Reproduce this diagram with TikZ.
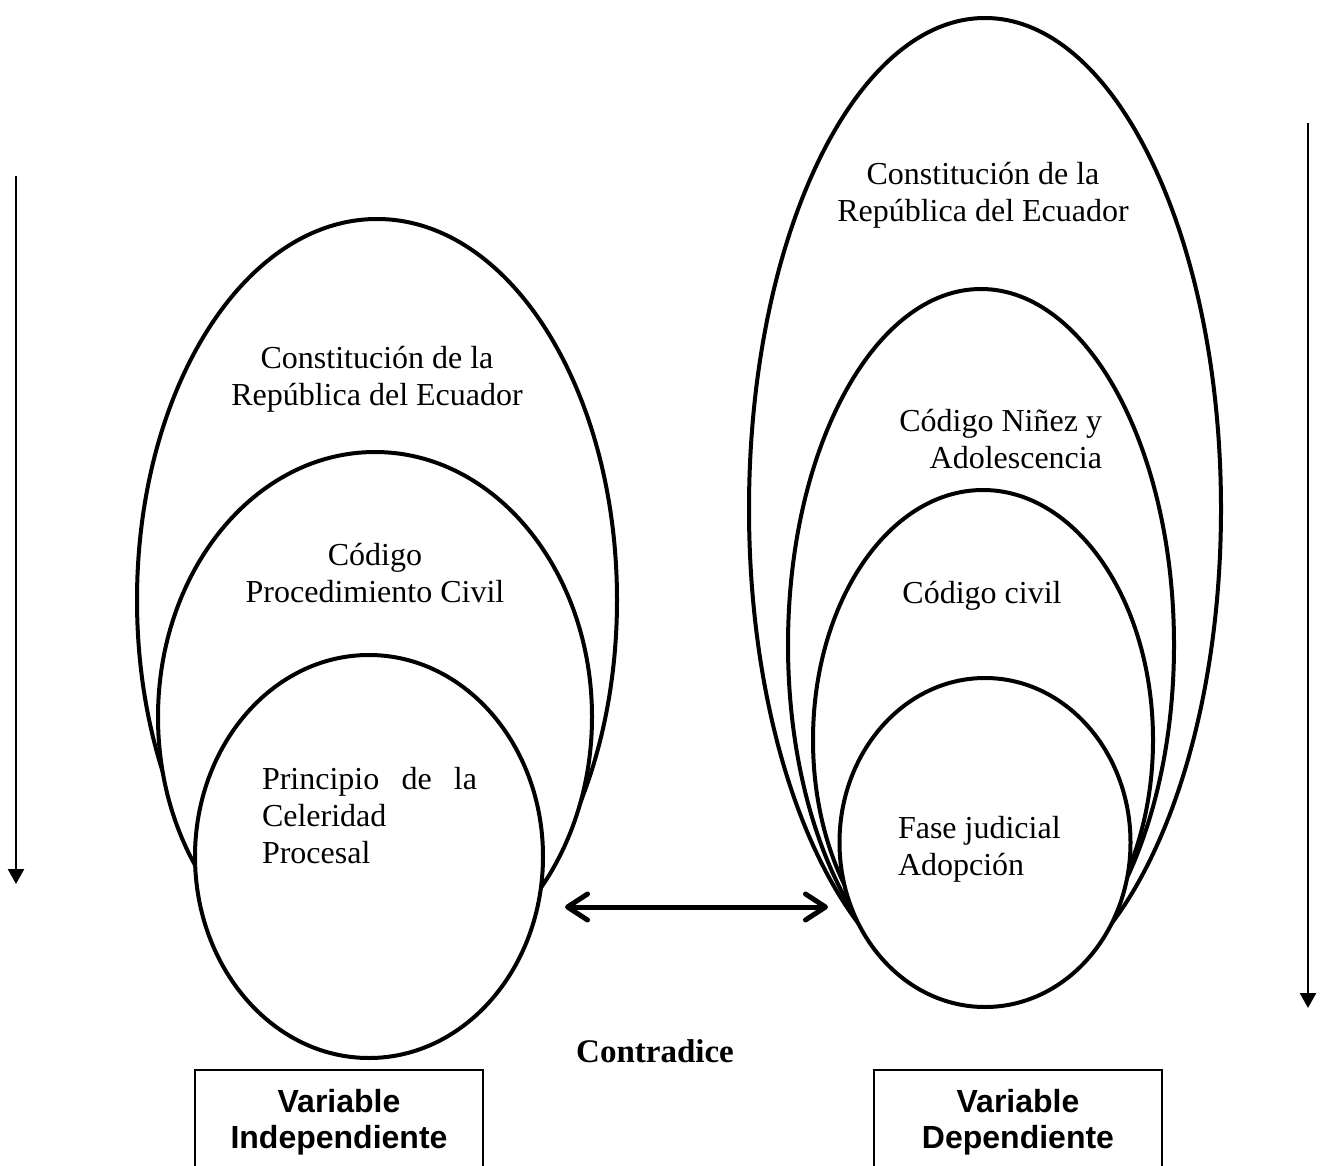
\documentclass[tikz,border=0pt]{standalone}
\usepackage{fontspec}
\setmainfont{Liberation Serif}
\newfontfamily\arialfont{Liberation Sans}
\usetikzlibrary{shapes.geometric,arrows.meta}
\begin{document}
\begin{tikzpicture}[x=1pt,y=-1pt,
  oval/.style={ellipse,draw,fill=white,line width=4pt,inner sep=0pt,outer sep=0pt},
  txt/.style={font=\fontsize{32}{37}\selectfont,inner sep=0pt,outer sep=0pt},
  boxtxt/.style={font=\arialfont\bfseries\fontsize{32}{36}\selectfont,inner sep=0pt,align=center},
  varbox/.style={draw,line width=1.5pt,minimum width=288pt,minimum height=140pt,inner sep=0pt},
  vline/.style={line width=2.5pt,-{Triangle[length=15pt,width=16pt]}},
  dline/.style={line width=5pt,{Straight Barb[length=20pt,width=26pt,round]}-{Straight Barb[length=20pt,width=26pt,round]}}
]
\useasboundingbox (0,0) rectangle (1325,1166);
\clip (0,0) rectangle (1325,1166);

% left group
\node[oval,minimum width=480pt,minimum height=762pt] (LA) at (377,600) {};
\node[oval,minimum width=434pt,minimum height=530pt] (LB) at (375,717) {};
\node[oval,minimum width=348pt,minimum height=403pt] (LC) at (369,856.5) {};

% right group
\node[oval,minimum width=472pt,minimum height=982pt] (RA) at (985,509) {};
\node[oval,minimum width=386pt,minimum height=712pt] (RB) at (981,645) {};
\node[oval,minimum width=340pt,minimum height=500pt] (RC) at (983,740) {};
\node[oval,minimum width=291pt,minimum height=329pt] (RD) at (985,842.5) {};

% texts left (anchor = baseline of last line)
\node[txt,anchor=base,align=center] (tLA) at (377,405) {Constitución de la\\República del Ecuador};
\node[txt,anchor=base,align=center] (tLB) at (375,602) {Código\\Procedimiento Civil};
\node[txt,anchor=base west,align=left] (tLC) at (262,863) {\makebox[215pt][s]{Principio de la}\\Celeridad\\Procesal};

% texts right
\node[txt,anchor=base,align=center] (tRA) at (983,222) {Constitución de la\\República del Ecuador};
\node[txt,anchor=base east,align=right] (tRB) at (1102,468) {Código Niñez y\\Adolescencia};
\node[txt,anchor=base,align=center] (tRC) at (982,603) {Código civil};
\node[txt,anchor=base west,align=left] (tRD) at (898,875) {Fase judicial\\Adopción};

% vertical arrows
\coordinate (vl1) at (16,176);
\coordinate (vl2) at (16,884);
\draw[vline] (vl1) -- (vl2);
\coordinate (vr1) at (1308,123);
\coordinate (vr2) at (1308,1008);
\draw[vline] (vr1) -- (vr2);

% double arrow
\coordinate (aL) at (565,907);
\coordinate (aR) at (828,907);
\draw[dline] (aL) -- (aR);

% contradice
\node[inner sep=0pt,anchor=base,font=\bfseries\fontsize{33}{38}\selectfont] (contra) at (655,1062) {Contradice};

% boxes
\node[varbox] (boxL) at (339,1140) {};
\node[varbox] (boxR) at (1018,1140) {};
\node[boxtxt,anchor=base] (bL) at (339,1148) {Variable\\Independiente};
\node[boxtxt,anchor=base] (bR) at (1018,1148) {Variable\\Dependiente};
\end{tikzpicture}
\end{document}
